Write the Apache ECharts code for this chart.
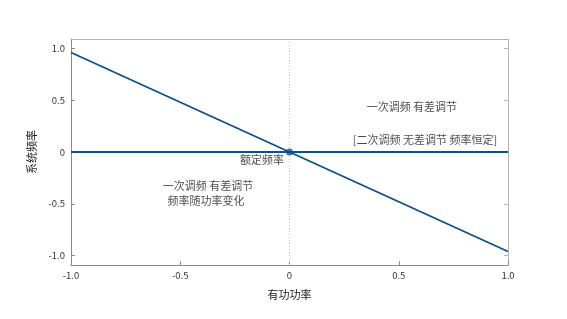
<!DOCTYPE html>
<html>
<head>
<meta charset="utf-8">
<script src="https://cdn.jsdelivr.net/npm/echarts@6/dist/echarts.min.js"></script>
<style>
  html, body { margin: 0; padding: 0; background: #fff; }
  #chart { width: 567px; height: 319px; }
</style>
</head>
<body>
<div id="chart"></div>
<script>
// 有功功率 vs 系统频率
const xTicks = [-1.0, -0.5, 0, 0.5, 1.0]
const yTicks = [-1.0, -0.5, 0, 0.5, 1.0]
const droopLine = [[-1.0, 0.96], [1.0, -0.96]]
const flatLine = [[-1.0, 0], [1.0, 0]]
const ratedPoint = [[0, 0]]
const guideLine = [[0, -1.09], [0, 1.09]]
const notes = [
  { name: '一次调频 有差调节', value: [0.56, 0.44] },
  { name: '[二次调频 无差调节 频率恒定]', value: [0.62, 0.12] },
  { name: '一次调频 有差调节', value: [-0.373, -0.33] },
  { name: '频率随功率变化', value: [-0.382, -0.47] },
  { name: '额定频率', value: [-0.126, -0.08] },
]

const fmt = (v) => (v === 0 ? '0' : v.toFixed(1))

const chart = echarts.init(document.getElementById('chart'))
const font = '"Noto Sans CJK SC", "DejaVu Sans", sans-serif'
const axisGrey = '#8a8a8a'
const frameGrey = '#b4b4b4'

chart.setOption({
  backgroundColor: '#ffffff',
  animation: false,
  textStyle: { fontFamily: font },
  grid: { left: 71, right: 59, top: 39, bottom: 54, containLabel: false },
  xAxis: [
    {
      type: 'value', min: -1, max: 1, interval: 0.5,
      name: '有功功率', nameLocation: 'middle', nameGap: 24,
      nameTextStyle: { color: '#222', fontSize: 11, fontFamily: font },
      axisLine: { onZero: false, lineStyle: { color: axisGrey, width: 1 } },
      axisTick: { inside: true, length: 4, lineStyle: { color: axisGrey } },
      axisLabel: { color: '#333', fontSize: 9.5, margin: 6, formatter: fmt },
      splitLine: { show: false },
    },
    {
      type: 'value', min: -1, max: 1, interval: 0.5, position: 'top',
      axisLine: { show: true, onZero: false, lineStyle: { color: frameGrey, width: 1 } },
      axisTick: { show: false }, axisLabel: { show: false }, splitLine: { show: false },
    },
  ],
  yAxis: [
    {
      type: 'value', min: -1.09, max: 1.09,
      name: '系统频率', nameLocation: 'middle', nameGap: 32, nameRotate: 90,
      nameTextStyle: { color: '#222', fontSize: 11, fontFamily: font },
      axisLine: { show: true, onZero: false, lineStyle: { color: axisGrey, width: 1 } },
      axisTick: { inside: true, length: 4, lineStyle: { color: axisGrey }, customValues: yTicks },
      axisLabel: { color: '#333', fontSize: 9.5, margin: 6, customValues: yTicks, formatter: fmt },
      splitLine: { show: false },
    },
    {
      type: 'value', min: -1.09, max: 1.09, position: 'right',
      axisLine: { show: true, onZero: false, lineStyle: { color: frameGrey, width: 1 } },
      axisTick: { show: true, inside: true, length: 4, lineStyle: { color: frameGrey }, customValues: yTicks },
      axisLabel: { show: false }, splitLine: { show: false },
    },
  ],
  series: [
    {
      type: 'line', data: guideLine, symbol: 'none', silent: true,
      lineStyle: { color: '#c8c8c8', width: 1, type: [1, 2] },
    },
    {
      type: 'line', data: flatLine, symbol: 'none',
      lineStyle: { color: '#0b4f8c', width: 2 },
    },
    {
      type: 'line', data: droopLine, symbol: 'none',
      lineStyle: { color: '#0b4f8c', width: 1.8 },
    },
    {
      type: 'scatter', data: ratedPoint, symbolSize: 7,
      itemStyle: { color: '#0b4f8c' }, z: 5,
    },
    {
      type: 'scatter', data: notes, symbolSize: 0, silent: true,
      label: {
        show: true, position: 'inside', formatter: '{b}',
        color: '#1a1a1a', fontSize: 11, fontFamily: font,
      },
    },
  ],
})
</script>
</body>
</html>
